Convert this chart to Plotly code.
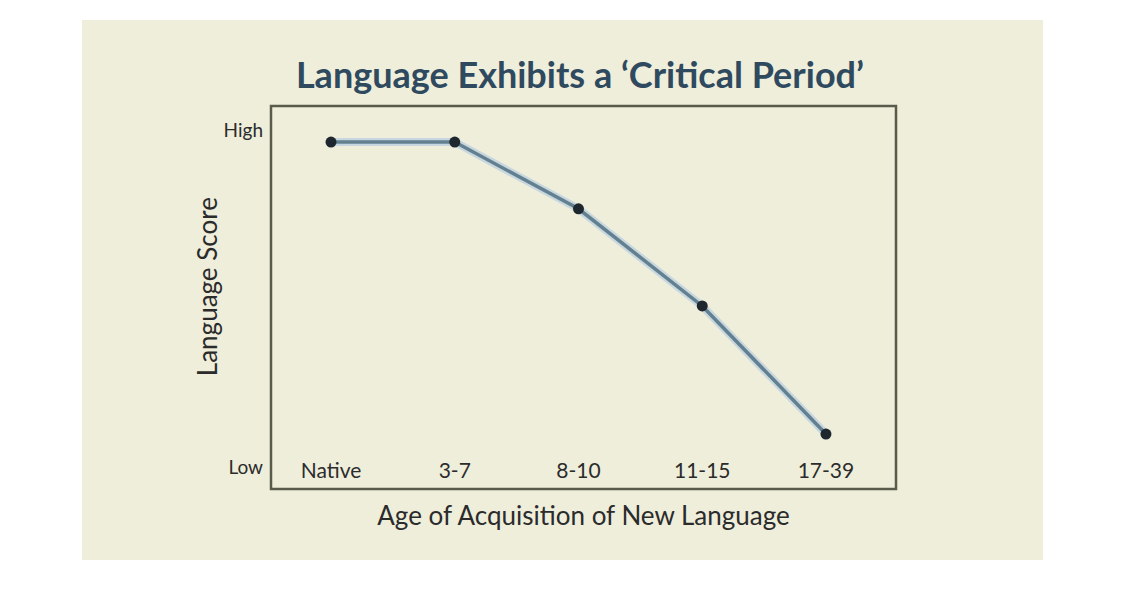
import plotly.graph_objects as go

categories = ["Native", "3-7", "8-10", "11-15", "17-39"]
scores = [9.64, 9.64, 7.66, 4.78, 0.98]
y_tick_vals = [0, 10]
y_tick_labels = ["Low", "High"]

x_pos = list(range(len(categories)))

fig = go.Figure()
# soft glow under line
fig.add_trace(go.Scatter(
    x=x_pos, y=scores, mode="lines",
    line=dict(color="rgba(175,200,225,0.6)", width=8),
    hoverinfo="skip", showlegend=False))
fig.add_trace(go.Scatter(
    x=x_pos, y=scores, mode="lines+markers",
    line=dict(color="#62808f", width=3.5),
    marker=dict(color="#1e272d", size=11),
    showlegend=False))

font_family = "Lato, 'Open Sans', sans-serif"
box_color = "#5b5b4c"

fig.update_layout(
    width=1125, height=590,
    margin=dict(l=263, r=237, t=98, b=109, autoexpand=False),
    paper_bgcolor="white",
    plot_bgcolor="#eeeedb",
    font=dict(family=font_family, color="#2b2b2b"),
    title=dict(text="<b>Language Exhibits a ‘Critical Period’</b>",
               x=0.5084, xanchor="center", y=0.8864, yanchor="middle",
               font=dict(size=36, color="#2f4a5f", family=font_family)),
    shapes=[
        dict(type="rect", xref="paper", yref="paper",
             x0=-0.3024, x1=1.2352, y0=-0.1854, y1=1.2245,
             fillcolor="#eeeedb", line=dict(width=0), layer="below"),
        dict(type="rect", xref="paper", yref="paper",
             x0=0, x1=1, y0=0, y1=1,
             line=dict(color=box_color, width=2.5), layer="above"),
    ],
    annotations=[dict(text="Language Score", xref="paper", yref="paper",
                      x=-0.1024, y=0.527, textangle=-90, showarrow=False,
                      xanchor="center", yanchor="middle",
                      font=dict(size=26, color="#2b2b2b"))],
)

fig.update_xaxes(
    range=[-0.485, 4.566],
    tickvals=x_pos, ticktext=categories,
    anchor="free", position=0.086,
    tickfont=dict(size=21, color="#2b2b2b"),
    ticks="", showgrid=False, zeroline=False, showline=False,
    title=dict(text="Age of Acquisition of New Language",
               font=dict(size=26, color="#2b2b2b"), standoff=25),
)
fig.update_yaxes(
    range=[-0.65, 10.71],
    tickvals=y_tick_vals, ticktext=y_tick_labels,
    tickfont=dict(size=19, color="#2b2b2b"),
    ticks="", ticklabelstandoff=7,
    showgrid=False, zeroline=False, showline=False,
)

fig.write_html("out.html")
